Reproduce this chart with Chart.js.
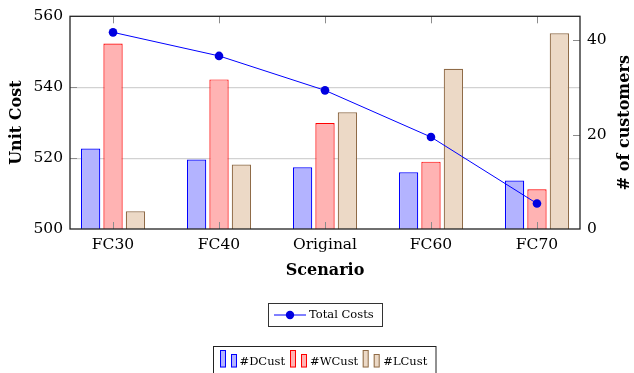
<!DOCTYPE html>
<html><head><meta charset="utf-8">
<script src="https://cdn.jsdelivr.net/npm/chart.js@4"></script>
<style>html,body{margin:0;padding:0;background:#fff;overflow:hidden}</style>
</head><body>
<canvas id="c" width="634" height="373"></canvas>
<script>
const categories = ['FC30', 'FC40', 'Original', 'FC60', 'FC70'];
const dCust = [522.7, 519.6, 517.4, 516.0, 513.7];
const wCust = [552.3, 542.2, 529.9, 519.0, 511.2];
const lCust = [505.0, 518.2, 532.9, 545.2, 555.2];
const totalCosts = [41.7, 36.7, 29.4, 19.5, 5.4];
const leftTicks = [500, 520, 540, 560];
const rightTicks = [0, 20, 40];

const SERIF = '"DejaVu Serif", "Liberation Serif", serif';
const toXY = arr => arr.map((v, i) => ({ x: i, y: v }));

const barOpts = { categoryPercentage: 0.634, barPercentage: 0.862, borderWidth: 1.2, xAxisID: 'x', yAxisID: 'y', order: 2 };

const overlay = {
  id: 'overlay',
  afterDraw(chart) {
    const { ctx, chartArea: a, scales } = chart;
    ctx.save();
    // inward tick marks
    ctx.strokeStyle = '#8c8c8c';
    ctx.lineWidth = 1;
    const L = 7;
    ctx.beginPath();
    categories.forEach((c, i) => {
      const x = Math.round(scales.x.getPixelForValue(i)) + 0.5;
      ctx.moveTo(x, a.bottom); ctx.lineTo(x, a.bottom - L);
      ctx.moveTo(x, a.top); ctx.lineTo(x, a.top + L);
    });
    leftTicks.slice(1, -1).forEach(v => {
      const y = Math.round(scales.y.getPixelForValue(v)) + 0.5;
      ctx.moveTo(a.left, y); ctx.lineTo(a.left + L, y);
    });
    rightTicks.slice(1).forEach(v => {
      const y = Math.round(scales.y1.getPixelForValue(v)) + 0.5;
      ctx.moveTo(a.right, y); ctx.lineTo(a.right - L, y);
    });
    ctx.stroke();
    // frame
    ctx.strokeStyle = '#222';
    ctx.lineWidth = 1.3;
    ctx.strokeRect(a.left, a.top, a.right - a.left, a.bottom - a.top);

    // axis titles
    ctx.fillStyle = '#000';
    ctx.font = 'bold 16px ' + SERIF;
    ctx.textAlign = 'center';
    ctx.textBaseline = 'middle';
    ctx.fillText('Scenario', (a.left + a.right) / 2, 271);
    ctx.save();
    ctx.translate(17, (a.top + a.bottom) / 2);
    ctx.rotate(-Math.PI / 2);
    ctx.fillText('Unit Cost', 0, 0);
    ctx.restore();
    ctx.save();
    ctx.translate(625, (a.top + a.bottom) / 2);
    ctx.rotate(-Math.PI / 2);
    ctx.fillText('# of customers', 0, 0);
    ctx.restore();

    // legend 1 (line)
    ctx.lineWidth = 1;
    ctx.strokeStyle = '#333';
    ctx.strokeRect(268.5, 303.5, 114, 23);
    ctx.strokeStyle = '#0000ff';
    ctx.beginPath(); ctx.moveTo(274, 315); ctx.lineTo(306, 315); ctx.stroke();
    ctx.fillStyle = '#0000e0';
    ctx.beginPath(); ctx.arc(290, 315, 4.2, 0, Math.PI * 2); ctx.fill();
    ctx.fillStyle = '#000';
    ctx.font = '11.5px ' + SERIF;
    ctx.textAlign = 'left';
    ctx.fillText('Total Costs', 309, 315.5);

    // legend 2 (bars)
    ctx.strokeStyle = '#222';
    ctx.strokeRect(213.5, 346.5, 222.5, 30);
    const items = [
      { label: '#DCust', x: 220, tx: 239.5, fill: '#b3b3ff', stroke: '#0000ff' },
      { label: '#WCust', x: 290, tx: 310, fill: '#ffb3b3', stroke: '#ff0000' },
      { label: '#LCust', x: 362.7, tx: 383.3, fill: '#ecd9c6', stroke: '#8f6b47' }
    ];
    items.forEach(it => {
      ctx.fillStyle = it.fill; ctx.strokeStyle = it.stroke;
      ctx.fillRect(it.x, 350, 5.7, 17.3); ctx.strokeRect(it.x + 0.5, 350.5, 5, 16.5);
      ctx.fillRect(it.x + 11, 354, 5.7, 13.3); ctx.strokeRect(it.x + 11.5, 354.5, 5, 12.5);
      ctx.fillStyle = '#000';
      ctx.fillText(it.label, it.tx, 362.5);
    });
    ctx.restore();
  }
};

new Chart(document.getElementById('c'), {
  type: 'bar',
  data: {
    datasets: [
      { type: 'line', label: 'Total Costs', data: toXY(totalCosts), xAxisID: 'x', yAxisID: 'y1', order: 0,
        borderColor: '#0000ff', borderWidth: 1, pointRadius: 4.3, pointBackgroundColor: '#0000e0',
        pointBorderWidth: 0, tension: 0, fill: false },
      { label: '#DCust', data: toXY(dCust), backgroundColor: '#b3b3ff', borderColor: '#0000ff', ...barOpts },
      { label: '#WCust', data: toXY(wCust), backgroundColor: '#ffb3b3', borderColor: '#ff0000', ...barOpts },
      { label: '#LCust', data: toXY(lCust), backgroundColor: '#ecd9c6', borderColor: '#8f6b47', ...barOpts }
    ]
  },
  options: {
    responsive: false,
    devicePixelRatio: 1,
    animation: false,
    layout: { padding: { top: 16, left: 0, right: 0, bottom: 0 } },
    plugins: { legend: { display: false }, tooltip: { enabled: false }, title: { display: false } },
    scales: {
      x: {
        type: 'linear', position: 'bottom', min: -0.406, max: 4.406, offset: false,
        afterBuildTicks: s => { s.ticks = categories.map((c, i) => ({ value: i })); },
        afterFit: s => { s.height = 144; },
        grid: { display: false, drawTicks: false, offset: false },
        border: { display: false },
        ticks: { callback: v => categories[v], color: '#000', font: { family: SERIF, size: 15.5 }, padding: 7, autoSkip: false, maxRotation: 0 }
      },
      y: {
        type: 'linear', position: 'left', min: 500, max: 560,
        afterBuildTicks: s => { s.ticks = leftTicks.map(v => ({ value: v })); },
        afterFit: s => { s.width = 70; },
        grid: { drawTicks: false, lineWidth: 1.2,
          color: c => (c.tick && c.tick.value > 500 && c.tick.value < 560) ? '#d2d2d2' : 'rgba(0,0,0,0)' },
        border: { display: false },
        ticks: { color: '#000', font: { family: SERIF, size: 15.5 }, padding: 7 }
      },
      y1: {
        type: 'linear', position: 'right', min: 0, max: 45.1,
        afterBuildTicks: s => { s.ticks = rightTicks.map(v => ({ value: v })); },
        afterFit: s => { s.width = 54; },
        grid: { drawOnChartArea: false, drawTicks: false },
        border: { display: false },
        ticks: { color: '#000', font: { family: SERIF, size: 15.5 }, padding: 7 }
      }
    }
  },
  plugins: [overlay]
});
</script>
</body></html>
